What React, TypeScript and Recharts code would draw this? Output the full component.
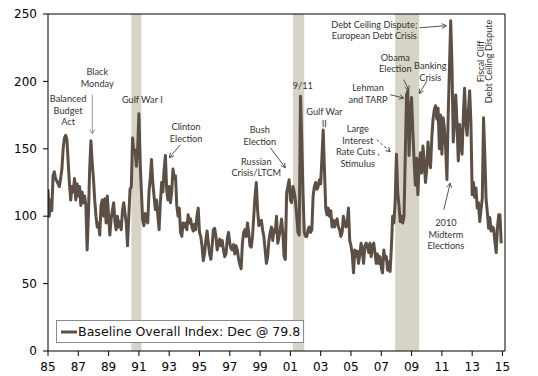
import React from 'react';
import {
  LineChart,
  Line,
  XAxis,
  YAxis,
  ReferenceArea,
  ReferenceLine,
  ReferenceDot,
  Legend,
} from 'recharts';

// Monthly index values, Jan 1985 .. Dec 2014
const idx1985to1989 = [
  120, 100, 112, 104, 130, 133, 128, 126, 124, 122, 128, 135,
  150, 158, 160, 157, 140, 124, 112, 122, 118, 128, 112, 124,
  115, 122, 108, 118, 110, 115, 108, 75, 100, 135, 156, 140,
  128, 112, 100, 92, 95, 86, 108, 112, 100, 113, 95, 115,
  100, 86, 98, 104, 110, 96, 90, 100, 92, 96, 90, 104,
];
const idx1990to1994 = [
  110, 102, 95, 78, 100, 120, 122, 158, 148, 149, 137, 150,
  176, 140, 118, 97, 93, 102, 97, 95, 118, 128, 142, 125,
  115, 105, 112, 100, 90, 110, 125, 118, 135, 145, 120, 112,
  122, 110, 118, 135, 128, 130, 108, 100, 106, 88, 85, 95,
  92, 95, 90, 101, 95, 98, 92, 89, 94, 90, 100, 106,
];
const idx1995to1999 = [
  88, 85, 78, 67, 72, 82, 89, 80, 72, 68, 78, 90,
  91, 85, 75, 80, 83, 78, 82, 75, 70, 72, 83, 88,
  80, 76, 75, 79, 72, 78, 75, 68, 64, 61, 80, 88,
  90, 85, 95, 88, 78, 77, 85, 100, 115, 125, 105, 93,
  95, 97, 90, 85, 75, 65, 70, 82, 88, 92, 82, 90,
];
const idx2000to2004 = [
  88, 100, 80, 85, 90, 98, 88, 70, 68, 117, 122, 127,
  112, 110, 122, 118, 112, 100, 88, 86, 189, 157, 117, 88,
  85, 85, 90, 92, 88, 90, 115, 122, 125, 120, 122, 127,
  124, 144, 164, 134, 106, 101, 106, 100, 104, 92, 97, 92,
  96, 98, 92, 90, 85, 88, 100, 95, 92, 95, 106, 82,
];
const idx2005to2009 = [
  78, 72, 58, 75, 70, 74, 65, 72, 80, 74, 65, 78,
  80, 78, 73, 80, 70, 78, 80, 73, 65, 72, 65, 70,
  62, 58, 75, 68, 70, 60, 66, 59, 77, 100, 95, 111,
  146, 118, 108, 96, 100, 95, 100, 145, 190, 193, 145, 175,
  188, 163, 141, 123, 143, 116, 138, 147, 132, 152, 141, 125,
];
const idx2010to2014 = [
  135, 155, 141, 136, 158, 172, 179, 182, 172, 180, 150, 175,
  146, 173, 165, 150, 127, 175, 210, 245, 212, 155, 170, 190,
  168, 141, 168, 155, 146, 175, 195, 168, 160, 178, 193, 170,
  116, 125, 114, 121, 106, 110, 96, 105, 113, 173, 146, 113,
  103, 91, 99, 89, 92, 91, 81, 73, 91, 101, 101, 79.8,
];

const START_YEAR = 1985;
const series = [
  ...idx1985to1989,
  ...idx1990to1994,
  ...idx1995to1999,
  ...idx2000to2004,
  ...idx2005to2009,
  ...idx2010to2014,
];
const data = series.map((v, i) => ({ i, v }));
const lastValue = series[series.length - 1];
const seriesName = `Baseline Overall Index: Dec @ ${lastValue}`;

// x in month index (0 = Jan 1985)
const xTicks = [0, 24, 48, 72, 96, 120, 144, 168, 192, 216, 240, 264, 288, 312, 336, 360];
const yTicks = [0, 50, 100, 150, 200, 250];

// Recessions (month index)
const recessions = [
  { from: 66, to: 74 },
  { from: 194, to: 203 },
  { from: 275, to: 294 },
];

// Annotation texts: position (month index, index value) of the first line centre
const notes = [
  { lines: ['Black', 'Monday'], x: 39.0, y: 207, lh: 11.2 },
  { lines: ['Balanced', 'Budget', 'Act'], x: 15.9, y: 187.2, lh: 11.6 },
  { lines: ['Gulf War I'], x: 74.7, y: 186.4, lh: 11 },
  { lines: ['Clinton', 'Election'], x: 109.4, y: 166.4, lh: 12 },
  { lines: ['Bush', 'Election'], x: 167.8, y: 164.2, lh: 11.6 },
  { lines: ['Russian', 'Crisis/LTCM'], x: 165, y: 140.7, lh: 11.6 },
  { lines: ['9/11'], x: 201.8, y: 196.8, lh: 11 },
  { lines: ['Gulf War', 'II'], x: 218.9, y: 177.7, lh: 11.6 },
  { lines: ['Large', 'Interest', 'Rate Cuts ,', 'Stimulus'], x: 245.4, y: 164.9, lh: 11.5 },
  { lines: ['Lehman', 'and TARP'], x: 253.5, y: 195.8, lh: 12 },
  { lines: ['Obama', 'Election'], x: 275.1, y: 217.4, lh: 11 },
  { lines: ['Banking', 'Crisis'], x: 302.8, y: 211.6, lh: 11.3 },
  { lines: ['Debt Ceiling Dispute;', 'European Debt Crisis'], x: 258.5, y: 242.1, lh: 11 },
  { lines: ['2010', 'Midterm', 'Elections'], x: 315.2, y: 95, lh: 11.3 },
  { lines: ['Fiscal Cliff', 'Debt Ceiling Dispute'], x: 342.4, y: 214.8, lh: 8.3, rotate: true },
];

const arrows = [
  { x1: 35.1, y1: 190.1, x2: 35.1, y2: 161.2, color: '#8c8c8c' },
  { x1: 104.8, y1: 153, x2: 96.1, y2: 143.4, color: '#404040' },
  { x1: 176.1, y1: 150.8, x2: 188, y2: 136, color: '#404040' },
  { x1: 260.4, y1: 156.8, x2: 271.1, y2: 147.8, color: '#404040', dashed: true },
  { x1: 271.1, y1: 190.1, x2: 281.8, y2: 187.7, color: '#404040' },
  { x1: 281.8, y1: 201.3, x2: 285.8, y2: 193.5, color: '#404040' },
  { x1: 300, y1: 200.1, x2: 294.1, y2: 190.9, color: '#404040' },
  { x1: 294.5, y1: 239.8, x2: 315.5, y2: 241.3, color: '#404040' },
  { x1: 313.5, y1: 104.8, x2: 318.6, y2: 124.5, color: '#404040' },
];

const LINE_COLOR = '#5c5046';
const SHADE_COLOR = '#d7d3c7';
const NOTE_COLOR = '#333333';
const NOTE_FONT = 'Lato, "DejaVu Sans", sans-serif';
const AXIS_FONT = '"DejaVu Sans", Verdana, sans-serif';

const yearLabel = (i: number) => {
  const y = (START_YEAR + i / 12) % 100;
  return String(Math.round(y)).padStart(2, '0');
};

const makeNoteShape = (note: any) => (p: any) => {
  const { cx, cy } = p;
  if (note.rotate) {
    return (
      <g transform={`rotate(-90, ${cx}, ${cy})`}>
        {note.lines.map((t: string, k: number) => (
          <text
            key={k}
            x={cx}
            y={cy + k * note.lh}
            textAnchor="middle"
            dominantBaseline="central"
            fontFamily={NOTE_FONT}
            fontSize={9.2}
            fill={NOTE_COLOR}
          >
            {t}
          </text>
        ))}
      </g>
    );
  }
  return (
    <g>
      {note.lines.map((t: string, k: number) => (
        <text
          key={k}
          x={cx}
          y={cy + k * note.lh}
          textAnchor="middle"
          dominantBaseline="central"
          fontFamily={NOTE_FONT}
          fontSize={9.2}
          fill={NOTE_COLOR}
        >
          {t}
        </text>
      ))}
    </g>
  );
};

const makeArrowShape = (a: any) => (p: any) => {
  const { x1, y1, x2, y2 } = p;
  const ang = Math.atan2(y2 - y1, x2 - x1);
  const L = 5;
  const spread = 0.5;
  const hx1 = x2 - L * Math.cos(ang - spread);
  const hy1 = y2 - L * Math.sin(ang - spread);
  const hx2 = x2 - L * Math.cos(ang + spread);
  const hy2 = y2 - L * Math.sin(ang + spread);
  return (
    <g>
      <line
        x1={x1}
        y1={y1}
        x2={x2}
        y2={y2}
        stroke={a.color}
        strokeWidth={0.9}
        strokeDasharray={a.dashed ? '3 2' : undefined}
      />
      <polyline
        points={`${hx1},${hy1} ${x2},${y2} ${hx2},${hy2}`}
        fill="none"
        stroke={a.color}
        strokeWidth={0.9}
      />
    </g>
  );
};

const LegendBox = () => (
  <div
    style={{
      boxSizing: 'border-box',
      width: 248,
      height: 23,
      border: '1px solid #8a8a8a',
      background: '#fff',
      display: 'flex',
      alignItems: 'center',
      paddingLeft: 4,
      fontFamily: AXIS_FONT,
      fontSize: 12.6,
      color: '#111',
      whiteSpace: 'nowrap',
    }}
  >
    <svg width={16} height={6} style={{ display: 'block' }}>
      <line x1={0} y1={3} x2={16} y2={3} stroke={LINE_COLOR} strokeWidth={3} />
    </svg>
    <span style={{ marginLeft: 1 }}>{seriesName}</span>
  </div>
);

export default function App() {
  const tickStyle = { fontFamily: AXIS_FONT, fontSize: 12, fill: '#000' };
  return (
    <div style={{ position: 'absolute', left: 0, top: 0, width: 538, height: 376, background: '#fff' }}>
      <LineChart width={538} height={376} data={data} margin={{ top: 14, right: 0, bottom: 0, left: 0 }}>
        <XAxis
          dataKey="i"
          type="number"
          domain={[0, 362]}
          ticks={xTicks}
          tickFormatter={yearLabel}
          height={25}
          tickSize={5}
          tickMargin={6}
          tick={tickStyle}
          stroke="#000"
          allowDataOverflow
        />
        <YAxis
          yAxisId="left"
          domain={[0, 250]}
          ticks={yTicks}
          width={48}
          tickSize={5}
          tickMargin={6}
          tick={tickStyle}
          stroke="#000"
        />
        <YAxis
          yAxisId="right"
          orientation="right"
          domain={[0, 250]}
          ticks={yTicks}
          width={33}
          tickSize={5}
          tickMargin={6}
          tick={tickStyle}
          stroke="#000"
        />
        {recessions.map((r, k) => (
          <ReferenceArea
            key={`rec${k}`}
            yAxisId="left"
            x1={r.from}
            x2={r.to}
            y1={0}
            y2={250}
            fill={SHADE_COLOR}
            fillOpacity={1}
            stroke="none"
          />
        ))}
        <ReferenceLine yAxisId="left" y={250} stroke="#000" strokeWidth={1} />
        <Line
          yAxisId="left"
          type="linear"
          dataKey="v"
          name={seriesName}
          stroke={LINE_COLOR}
          strokeWidth={3}
          strokeLinejoin="round"
          dot={false}
          activeDot={false}
          isAnimationActive={false}
        />
        {arrows.map((a, k) => (
          <ReferenceLine
            key={`arr${k}`}
            yAxisId="left"
            segment={[
              { x: a.x1, y: a.y1 },
              { x: a.x2, y: a.y2 },
            ]}
            shape={makeArrowShape(a)}
          />
        ))}
        {notes.map((n, k) => (
          <ReferenceDot
            key={`note${k}`}
            yAxisId="left"
            x={n.x}
            y={n.y}
            r={0}
            shape={makeNoteShape(n)}
          />
        ))}
        <Legend
          layout="horizontal"
          verticalAlign="middle"
          align="center"
          content={LegendBox}
          wrapperStyle={{ left: 56, top: 320, width: 248, height: 23 }}
        />
      </LineChart>
    </div>
  );
}
